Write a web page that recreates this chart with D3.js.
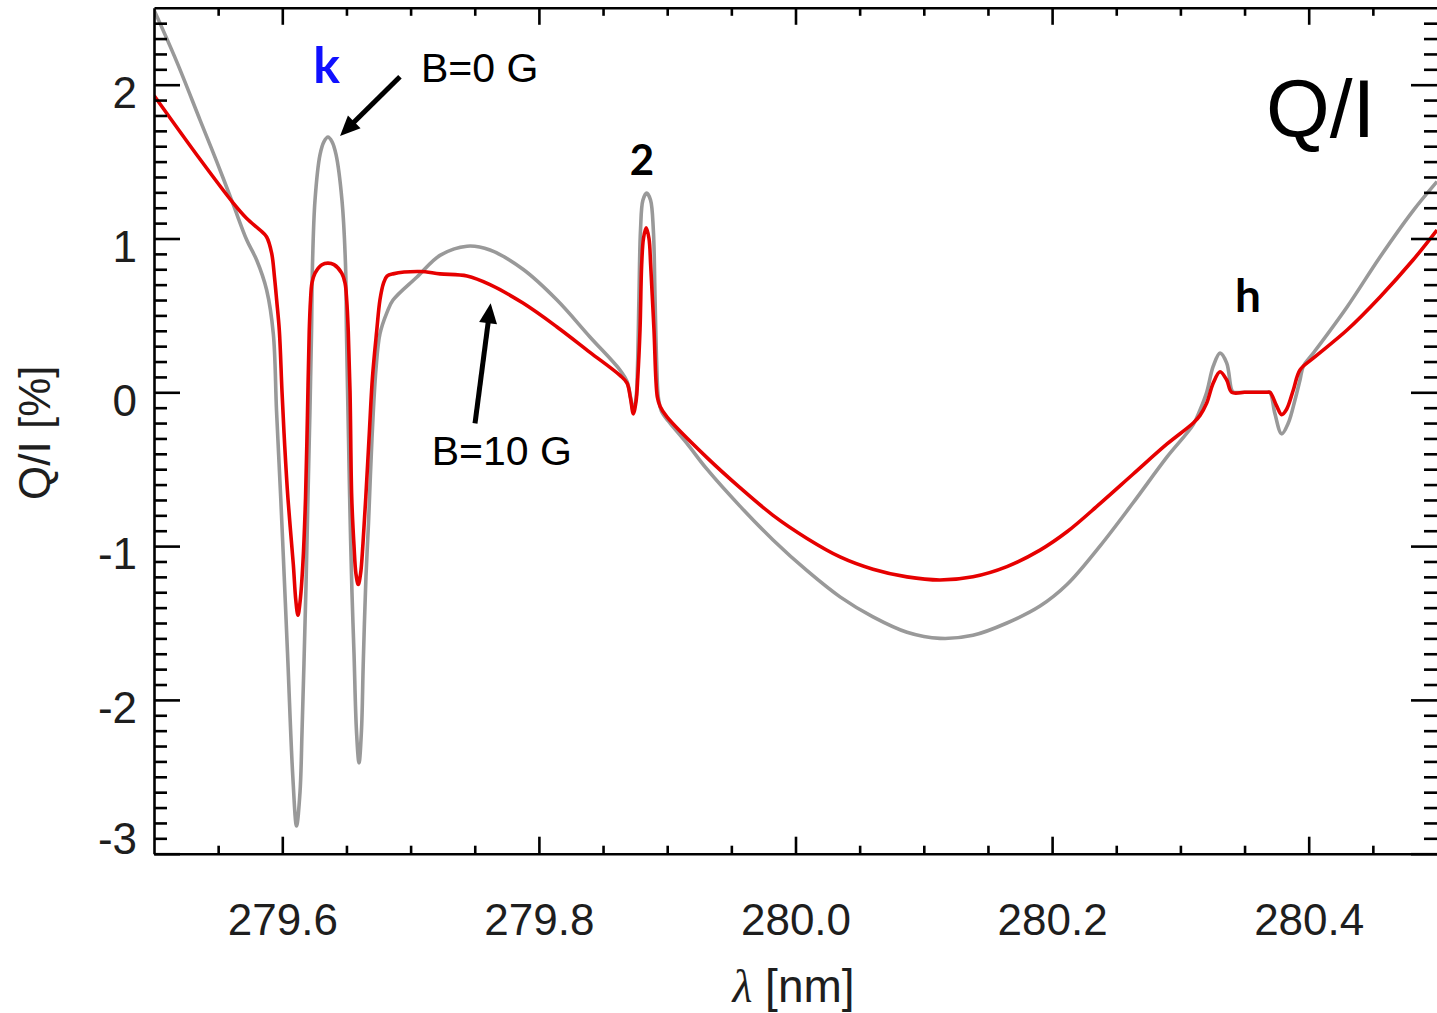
<!DOCTYPE html>
<html>
<head>
<meta charset="utf-8">
<script src="https://cdn.jsdelivr.net/npm/d3@7/dist/d3.min.js"></script>
<style>
  html, body { margin: 0; padding: 0; background: #ffffff; }
  svg { display: block; }
</style>
</head>
<body>
<svg id="chart" width="1437" height="1013"></svg>
<script>
// Fractional linear polarization Q/I across the Mg II h & k lines,
// computed without field (B=0 G) and with a 10 G field.

// ---- wavelength grid (nm) and Q/I (%) for B = 0 G ----
const lambdaB0 = [
  279.5000, 279.5177, 279.5359, 279.5489, 279.5618, 279.5723, 279.5800, 279.5878,
  279.5930, 279.5955, 279.5988, 279.6015, 279.6041, 279.6082, 279.6111, 279.6138,
  279.6154, 279.6169, 279.6185, 279.6200, 279.6216, 279.6228, 279.6235, 279.6255,
  279.6294, 279.6325, 279.6356, 279.6387, 279.6419, 279.6465, 279.6493, 279.6500,
  279.6516, 279.6528, 279.6543, 279.6559, 279.6578, 279.6598, 279.6617, 279.6631,
  279.6652, 279.6672, 279.6699, 279.6730, 279.6761, 279.6816, 279.6863,
  279.7050, 279.7229, 279.7440, 279.7619, 279.7876, 279.8141, 279.8398, 279.8632,
  279.8687, 279.8714, 279.8736, 279.8757, 279.8768, 279.8780, 279.8792, 279.8811,
  279.8840, 279.8870, 279.8892, 279.8905, 279.8918, 279.8932, 279.8959, 279.9022,
  279.9152, 279.9310, 279.9567, 279.9825, 280.0090, 280.0347, 280.0604, 280.0869,
  280.1126, 280.1383, 280.1648, 280.1906, 280.2116, 280.2373, 280.2630, 280.2896,
  280.3100, 280.3153, 280.3205, 280.3256, 280.3309, 280.3361, 280.3400, 280.3418,
  280.3500, 280.3600, 280.3675,
  280.3698, 280.3737, 280.3789, 280.3841, 280.3893, 280.3932, 280.3958, 280.4036,
  280.4299, 280.4556, 280.4813, 280.5000
];
const qiB0 = [
  2.486, 2.15, 1.77, 1.50, 1.22, 0.99, 0.86, 0.665,
  0.38, -0.12, -0.69, -1.20, -1.70, -2.50, -2.82, -2.60,
  -2.20, -1.76, -1.25, -0.68, -0.10, 0.40, 0.82, 1.25,
  1.545, 1.63, 1.66, 1.63, 1.545, 1.25, 0.82, 0.40,
  -0.30, -0.80, -1.30, -1.70, -2.20, -2.41, -2.20, -1.76,
  -1.20, -0.85, -0.30, 0.15, 0.38, 0.52, 0.60,
  0.75, 0.89, 0.95, 0.925, 0.80, 0.60, 0.36, 0.145,
  0.07, -0.03, -0.12, -0.04, 0.15, 0.62, 1.055, 1.25,
  1.295, 1.25, 1.055, 0.62, 0.19, -0.04, -0.13, -0.20,
  -0.33, -0.50, -0.74, -0.96, -1.16, -1.33, -1.46, -1.56,
  -1.60, -1.58, -1.50, -1.39, -1.25, -1.00, -0.72, -0.42,
  -0.21, -0.115, 0.0, 0.17, 0.255, 0.19, 0.015, 0.0,
  0.0, 0.0, 0.0,
  0.0, -0.14, -0.27, -0.20, -0.05, 0.08, 0.17, 0.255,
  0.555, 0.88, 1.18, 1.37
];

// ---- wavelength grid (nm) and Q/I (%) for B = 10 G ----
const lambdaB10 = [
  279.5000, 279.5359, 279.5618, 279.5723, 279.5826, 279.5878, 279.5917, 279.5939,
  279.5956, 279.5977, 279.5998, 279.6019, 279.6044, 279.6086, 279.6105, 279.6122,
  279.6140, 279.6160, 279.6181, 279.6196, 279.6210, 279.6220, 279.6231, 279.6255,
  279.6309, 279.6356, 279.6403, 279.6463, 279.6489, 279.6502, 279.6514, 279.6528,
  279.6541, 279.6559, 279.6574, 279.6592, 279.6610, 279.6629, 279.6651, 279.6676,
  279.6703, 279.6736, 279.6761, 279.6789, 279.6816, 279.6863, 279.7073, 279.7229,
  279.7440, 279.7619, 279.7876, 279.8141, 279.8398, 279.8632, 279.8687, 279.8714,
  279.8736, 279.8757, 279.8771, 279.8788, 279.8801, 279.8815, 279.8836, 279.8858,
  279.8871, 279.8897, 279.8923, 279.8944, 279.8998, 279.9310, 279.9567, 279.9825,
  280.0090, 280.0347, 280.0604, 280.0869, 280.1126, 280.1383, 280.1648, 280.1906,
  280.2116, 280.2373, 280.2630, 280.2896, 280.3100, 280.3153, 280.3205, 280.3256,
  280.3309, 280.3361, 280.3400, 280.3500, 280.3600, 280.3675,
  280.3698, 280.3751, 280.3789, 280.3828, 280.3880,
  280.3932, 280.4033, 280.4299, 280.4556, 280.4813, 280.5000
];
const qiB10 = [
  1.93, 1.515, 1.23, 1.13, 1.055, 1.01, 0.905, 0.75,
  0.60, 0.40, 0.0, -0.35, -0.69, -1.12, -1.35, -1.45,
  -1.35, -1.12, -0.69, -0.15, 0.40, 0.60, 0.71, 0.775,
  0.83, 0.84, 0.83, 0.775, 0.71, 0.60, 0.40, 0.0,
  -0.68, -1.00, -1.18, -1.25, -1.18, -0.98, -0.68, -0.30,
  0.10, 0.40, 0.60, 0.71, 0.755, 0.77, 0.785, 0.77,
  0.756, 0.70, 0.58, 0.425, 0.26, 0.11, 0.06, -0.04,
  -0.14, -0.06, 0.10, 0.405, 0.83, 1.00, 1.07, 1.00,
  0.83, 0.405, -0.03, -0.09, -0.16, -0.425, -0.62, -0.80,
  -0.95, -1.07, -1.15, -1.20, -1.22, -1.199, -1.133, -1.026,
  -0.907, -0.724, -0.533, -0.336, -0.20, -0.15, -0.07, 0.06,
  0.134, 0.08, 0.0, 0.0, 0.0, 0.0,
  0.0, -0.09, -0.145, -0.11, 0.015,
  0.145, 0.22, 0.405, 0.62, 0.86, 1.055
];

// ---- axis ticks ----
const xDomain = [279.5, 280.5];
const yDomain = [-3, 2.5];
const xMajorTicks = [279.6, 279.8, 280.0, 280.2, 280.4];
const xTickLabels = ["279.6", "279.8", "280.0", "280.2", "280.4"];
const xMinorStep = 0.05;
const yMajorTicks = [-3, -2, -1, 0, 1, 2];
const yTickLabels = ["-3", "-2", "-1", "0", "1", "2"];
const yMinorStep = 0.1;

// ---- annotations, placed in data units (nm, %) ----
const lineLabels = [
  { text: "k", at: [279.6345, 2.011], color: "#1010ff", size: 50 },
  { text: "2", at: [279.8804, 1.413], color: "#000000", size: 42 },
  { text: "h", at: [280.3527, 0.519], color: "#000000", size: 46 }
];
const fieldNotes = [
  { text: "B=0 G",  at: [279.7081, 2.017], tail: [279.6917, 2.052], tip: [279.6450, 1.667] },
  { text: "B=10 G", at: [279.7164, -0.473], tail: [279.7502, -0.202], tip: [279.7624, 0.579] }
];

// ---- layout ----
const W = 1437, H = 1013;
const plotL = 154, plotR = 1437, plotT = 7.8, plotB = 853.7;

const svg = d3.select("#chart");
svg.append("rect").attr("width", W).attr("height", H).attr("fill", "#ffffff");

const x = d3.scaleLinear().domain(xDomain).range([plotL, plotR]);
const y = d3.scaleLinear().domain(yDomain).range([plotB, plotT]);

const fmtKey = v => v.toFixed(3);
const majorXSet = new Set(xMajorTicks.map(fmtKey));
const majorYSet = new Set(yMajorTicks.map(fmtKey));
const xMinor = d3.range(Math.round((xDomain[1] - xDomain[0]) / xMinorStep) + 1)
  .map(i => +(xDomain[0] + i * xMinorStep).toFixed(3))
  .filter(v => v > xDomain[0] && v < xDomain[1] && !majorXSet.has(fmtKey(v)));
const yMinor = d3.range(Math.round((yDomain[1] - yDomain[0]) / yMinorStep) + 1)
  .map(i => +(yDomain[0] + i * yMinorStep).toFixed(3))
  .filter(v => v > yDomain[0] && v < yDomain[1] && !majorYSet.has(fmtKey(v)));

// ---- curves ----
svg.append("clipPath").attr("id", "plotArea")
  .append("rect").attr("x", plotL).attr("y", plotT)
  .attr("width", plotR - plotL).attr("height", plotB - plotT);

const line = d3.line()
  .x(d => x(d[0]))
  .y(d => y(d[1]))
  .curve(d3.curveCatmullRom.alpha(0.5));

const curves = svg.append("g").attr("clip-path", "url(#plotArea)");
curves.append("path")
  .datum(d3.zip(lambdaB0, qiB0))
  .attr("d", line)
  .attr("fill", "none")
  .attr("stroke", "#999999")
  .attr("stroke-width", 3.6)
  .attr("stroke-linejoin", "round");
curves.append("path")
  .datum(d3.zip(lambdaB10, qiB10))
  .attr("d", line)
  .attr("fill", "none")
  .attr("stroke", "#e60000")
  .attr("stroke-width", 3.6)
  .attr("stroke-linejoin", "round");

// ---- axes (all ticks pointing inward) ----
const AXW = 2.6;
const FONT = "'Liberation Sans', Arial, Helvetica, sans-serif";
const TICKCOL = "#1e1e1e";

function styleAxis(g, hideDomain) {
  g.selectAll("line").attr("stroke", "#000").attr("stroke-width", AXW);
  g.select(".domain").attr("stroke", "#000").attr("stroke-width", AXW)
    .attr("display", hideDomain ? "none" : null);
  g.selectAll("text").attr("font-family", FONT).attr("font-size", 44).attr("fill", TICKCOL);
}

// bottom
const gB = svg.append("g").attr("transform", `translate(0,${plotB})`)
  .call(d3.axisBottom(x).tickValues(xMajorTicks).tickSize(-17).tickSizeOuter(0)
    .tickPadding(50).tickFormat((d, i) => xTickLabels[i]));
styleAxis(gB, false);
const gBm = svg.append("g").attr("transform", `translate(0,${plotB})`)
  .call(d3.axisBottom(x).tickValues(xMinor).tickSize(-8).tickSizeOuter(0).tickFormat(""));
styleAxis(gBm, true);

// top
const gT = svg.append("g").attr("transform", `translate(0,${plotT})`)
  .call(d3.axisTop(x).tickValues(xMajorTicks).tickSize(-17).tickSizeOuter(0).tickFormat(""));
styleAxis(gT, false);
const gTm = svg.append("g").attr("transform", `translate(0,${plotT})`)
  .call(d3.axisTop(x).tickValues(xMinor).tickSize(-8).tickSizeOuter(0).tickFormat(""));
styleAxis(gTm, true);

// left
const gL = svg.append("g").attr("transform", `translate(${plotL},0)`)
  .call(d3.axisLeft(y).tickValues(yMajorTicks).tickSize(-26).tickSizeOuter(0)
    .tickPadding(17).tickFormat((d, i) => yTickLabels[i]));
styleAxis(gL, false);
// labels sit a little below their tick; the lowest one is lifted to clear the frame
gL.selectAll(".tick text")
  .attr("dy", "0.36em")
  .attr("y", d => d === yDomain[0] ? -16 : 7);
const gLm = svg.append("g").attr("transform", `translate(${plotL},0)`)
  .call(d3.axisLeft(y).tickValues(yMinor).tickSize(-13).tickSizeOuter(0).tickFormat(""));
styleAxis(gLm, true);

// right
const gR = svg.append("g").attr("transform", `translate(${plotR},0)`)
  .call(d3.axisRight(y).tickValues(yMajorTicks).tickSize(-26).tickSizeOuter(0).tickFormat(""));
styleAxis(gR, true);
const gRm = svg.append("g").attr("transform", `translate(${plotR},0)`)
  .call(d3.axisRight(y).tickValues(yMinor).tickSize(-13).tickSizeOuter(0).tickFormat(""));
styleAxis(gRm, true);

// ---- axis titles ----
const xt = svg.append("text")
  .attr("x", (plotL + plotR) / 2 - 2)
  .attr("y", 1002)
  .attr("text-anchor", "middle")
  .attr("font-family", FONT)
  .attr("font-size", 46)
  .attr("fill", TICKCOL);
xt.append("tspan")
  .attr("font-family", "'Liberation Serif', 'DejaVu Serif', serif")
  .attr("font-style", "italic")
  .text("λ");
xt.append("tspan").text(" [nm]");

svg.append("text")
  .attr("transform", `translate(50,${(plotT + plotB) / 2 + 2}) rotate(-90)`)
  .attr("text-anchor", "middle")
  .attr("font-family", FONT)
  .attr("font-size", 44)
  .attr("fill", TICKCOL)
  .text("Q/I [%]");

// ---- panel title ----
svg.append("text")
  .attr("x", x(280.3667))
  .attr("y", y(1.66))
  .attr("font-family", FONT)
  .attr("font-size", 82)
  .attr("fill", "#000")
  .text("Q/I");

// ---- line identifiers ----
svg.append("g").selectAll("text")
  .data(lineLabels)
  .join("text")
  .attr("x", d => x(d.at[0]))
  .attr("y", d => y(d.at[1]))
  .attr("text-anchor", "middle")
  .attr("font-family", "Lato, 'Open Sans', sans-serif")
  .attr("font-weight", 700)
  .attr("font-size", d => d.size)
  .attr("fill", d => d.color)
  .text(d => d.text);

// ---- field-strength notes with arrows ----
const notes = svg.append("g");
notes.selectAll("text")
  .data(fieldNotes)
  .join("text")
  .attr("x", d => x(d.at[0]))
  .attr("y", d => y(d.at[1]))
  .attr("font-family", FONT)
  .attr("font-size", 41)
  .attr("fill", "#000")
  .text(d => d.text);

const HEAD_LEN = 20, HEAD_HALF = 9;
fieldNotes.forEach(d => {
  const x0 = x(d.tail[0]), y0 = y(d.tail[1]);
  const x1 = x(d.tip[0]), y1 = y(d.tip[1]);
  const len = Math.hypot(x1 - x0, y1 - y0);
  const ux = (x1 - x0) / len, uy = (y1 - y0) / len;
  const bx = x1 - ux * HEAD_LEN, by = y1 - uy * HEAD_LEN;
  notes.append("line")
    .attr("x1", x0).attr("y1", y0)
    .attr("x2", bx + ux * 2).attr("y2", by + uy * 2)
    .attr("stroke", "#000").attr("stroke-width", 5);
  notes.append("path")
    .attr("d", `M${x1},${y1}L${bx - uy * HEAD_HALF},${by + ux * HEAD_HALF}L${bx + uy * HEAD_HALF},${by - ux * HEAD_HALF}Z`)
    .attr("fill", "#000");
});
</script>
</body>
</html>
